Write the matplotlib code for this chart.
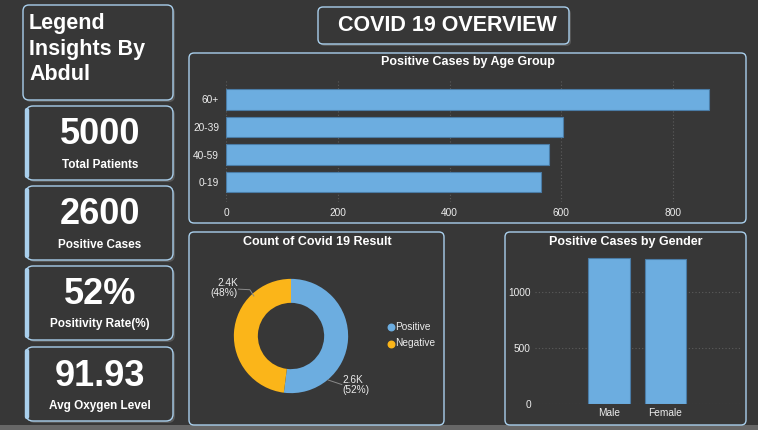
import matplotlib
matplotlib.use("Agg")
import matplotlib.pyplot as plt
from matplotlib.patches import FancyBboxPatch, Rectangle

plt.rcParams['font.family'] = ['Liberation Sans', 'DejaVu Sans']

# ---------------- data ----------------
age_groups = ['60+', '20-39', '40-59', '0-19']
age_values = [864, 603, 578, 564]

genders = ['Male', 'Female']
gender_values = [1306, 1294]

result_labels = ['Positive', 'Negative']
result_values = [2600, 2400]

kpi_values = ['5000', '2600', '52%', '91.93']
kpi_labels = ['Total Patients', 'Positive Cases', 'Positivity Rate(%)', 'Avg Oxygen Level']

age_ticks = [0, 200, 400, 600, 800]
gender_ticks = [0, 500, 1000]

# ---------------- style ----------------
W, H = 758, 430
BG = '#373737'
BORDER = '#a9cfec'
BLUE = '#6cade0'
BLUE_EDGE = '#4a7ca6'
ORANGE = '#fbb519'
WHITE = '#ffffff'
TICK = '#ececec'
GRID = '#5c5c5c'

fig = plt.figure(figsize=(W / 100, H / 100), dpi=100)
fig.patch.set_facecolor(BG)

bg = fig.add_axes([0, 0, 1, 1])
bg.set_xlim(0, W)
bg.set_ylim(H, 0)
bg.axis('off')
bg.set_zorder(0)

bg.add_patch(Rectangle((0, 425), W, 5, facecolor='#676767', edgecolor='none'))


def box(x0, y0, x1, y1, r=6, shadow=False, lw=1.0, stripe=False):
    if shadow:
        bg.add_patch(FancyBboxPatch((x0 + 2, y0 + 2), x1 - x0, y1 - y0,
                                    boxstyle=f"round,pad=0,rounding_size={r}",
                                    facecolor='#5a5a5a', edgecolor='none', alpha=0.9))
    bg.add_patch(FancyBboxPatch((x0, y0), x1 - x0, y1 - y0,
                                boxstyle=f"round,pad=0,rounding_size={r}",
                                facecolor=BG, edgecolor=BORDER, linewidth=lw))
    if stripe:
        bg.plot([x0 + 0.8, x0 + 0.8], [y0 + r * 0.6, y1 - r * 0.6], color=BORDER,
                linewidth=3.2, solid_capstyle='round')


def px_axes(x0, y0, x1, y1):
    ax = fig.add_axes([x0 / W, 1 - y1 / H, (x1 - x0) / W, (y1 - y0) / H])
    ax.set_facecolor('none')
    ax.set_zorder(2)
    return ax


# ---- title boxes ----
box(23, 5, 173, 100, r=6, shadow=True)
for t, y in zip(['Legend', 'Insights By', 'Abdul'], [23, 49, 74]):
    bg.text(29, y, t, color=WHITE, fontsize=15.5, fontweight='bold', ha='left', va='center')

box(318, 7, 569, 44, r=5, shadow=True)
bg.text(447, 25.5, 'COVID 19 OVERVIEW', color=WHITE, fontsize=15.5, fontweight='bold',
        ha='center', va='center')

# ---- KPI cards ----
kpi_boxes = [(106, 180), (186, 260), (266, 340), (347, 421)]
for (y0, y1), v, lab in zip(kpi_boxes, kpi_values, kpi_labels):
    box(26, y0, 173, y1, r=7, shadow=True, stripe=True)
    bg.text(100, y0 + 29, v, color=WHITE, fontsize=26, fontweight='bold',
            ha='center', va='center')
    bg.text(100, y0 + 58.5, lab, color=WHITE, fontsize=8.5, fontweight='bold',
            ha='center', va='center')

# ---- chart panels ----
box(189, 53, 746, 223, r=5)
box(189, 232, 444, 425, r=5)
box(505, 232, 746, 425, r=5)

bg.text(467.5, 62, 'Positive Cases by Age Group', color=WHITE, fontsize=9,
        fontweight='bold', ha='center', va='center')
bg.text(317, 242, 'Count of Covid 19 Result', color=WHITE, fontsize=9,
        fontweight='bold', ha='center', va='center')
bg.text(626, 242, 'Positive Cases by Gender', color=WHITE, fontsize=9,
        fontweight='bold', ha='center', va='center')

# ---- age group horizontal bar ----
ax1 = px_axes(226, 80, 729, 202)
ypos = list(range(len(age_groups)))[::-1]
ax1.barh(ypos, age_values, height=0.74, color=BLUE, edgecolor=BLUE_EDGE, linewidth=0.8, zorder=3)
ax1.set_xlim(0, 900)
ax1.set_ylim(-0.72, 3.7)
ax1.set_yticks(ypos)
ax1.set_yticklabels(age_groups)
ax1.set_xticks(age_ticks)
ax1.set_xticklabels([str(t) for t in age_ticks])
ax1.tick_params(axis='both', length=0, colors=TICK, labelsize=7.3)
ax1.tick_params(axis='x', pad=4)
ax1.tick_params(axis='y', pad=5)
ax1.xaxis.grid(True, color=GRID, linestyle=(0, (1, 2)), linewidth=0.8, zorder=0)
for s in ax1.spines.values():
    s.set_visible(False)

# ---- gender bar ----
ax2 = px_axes(535, 250, 740, 404)
ax2.bar(range(len(genders)), gender_values, width=0.74, color=BLUE, edgecolor=BLUE_EDGE,
        linewidth=0.8, zorder=3)
ax2.set_xlim(-1.31, 2.32)
ax2.set_ylim(0, 1375)
ax2.set_xticks(range(len(genders)))
ax2.set_xticklabels(genders)
ax2.set_yticks(gender_ticks)
ax2.set_yticklabels([str(t) for t in gender_ticks])
ax2.tick_params(axis='both', length=0, colors=TICK, labelsize=7.3)
ax2.tick_params(axis='x', pad=3)
ax2.tick_params(axis='y', pad=3)
ax2.yaxis.grid(True, color=GRID, linestyle=(0, (1, 2)), linewidth=0.8, zorder=0)
for s in ax2.spines.values():
    s.set_visible(False)

# ---- donut ----
ax3 = px_axes(211, 256, 371, 416)
ax3.pie(result_values, colors=[BLUE, ORANGE], startangle=90, counterclock=False,
        radius=1.0, wedgeprops=dict(width=0.42, edgecolor='none'))
ax3.set_xlim(-1.4, 1.4)
ax3.set_ylim(-1.4, 1.4)
ax3.set_aspect('equal')
total = sum(result_values)
lab_txt = [f"{v / 1000:.1f}K\n({v / total:.0%})" for v in result_values]
# positive label (bottom right), negative label (top left)
ax3.plot([0.65, 0.89], [-0.77, -0.85], color='#8a8a8a', linewidth=0.7)
ax3.text(0.90, -0.86, lab_txt[0], color=TICK, fontsize=7.3, ha='left', va='center',
         linespacing=1.0)
ax3.plot([-0.65, -0.72, -0.92], [0.70, 0.81, 0.82], color='#8a8a8a', linewidth=0.7)
ax3.text(-0.93, 0.84, lab_txt[1], color=TICK, fontsize=7.3, ha='right', va='center',
         linespacing=1.0)

# legend
for i, (lab, col) in enumerate(zip(result_labels, [BLUE, ORANGE])):
    y = 327 + i * 16.5
    bg.scatter([390.5], [y], s=22, color=col, zorder=3)
    bg.text(395.5, y, lab, color=TICK, fontsize=7.3, ha='left', va='center')

fig.savefig('out.png', dpi=100, facecolor=BG)
